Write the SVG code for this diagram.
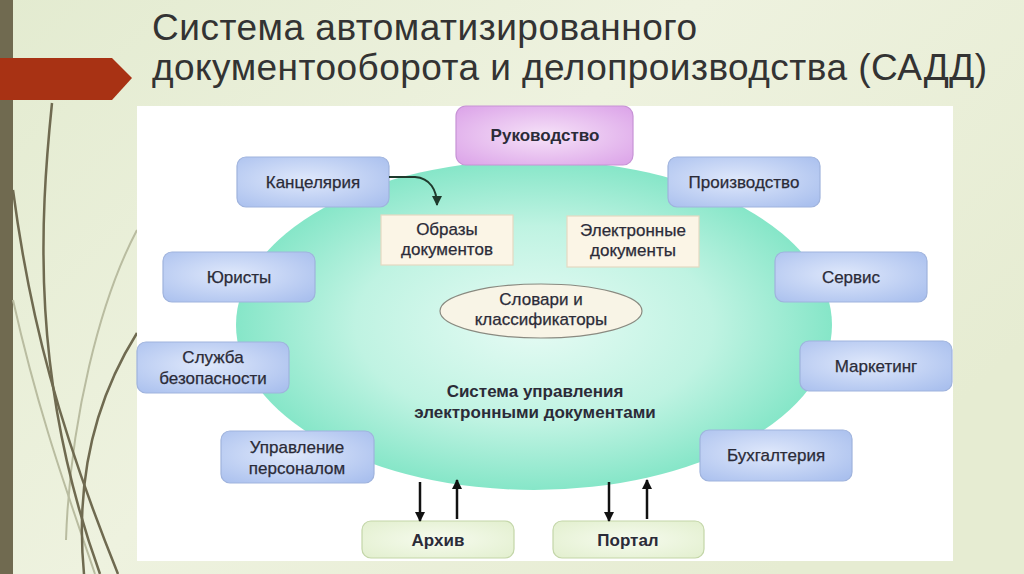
<svg xmlns="http://www.w3.org/2000/svg" width="1024" height="574" viewBox="0 0 1024 574">
  <defs>
    <linearGradient id="bg" x1="0" y1="0" x2="1" y2="0.6">
      <stop offset="0" stop-color="#e3ebd0"/>
      <stop offset="0.5" stop-color="#eef2df"/>
      <stop offset="1" stop-color="#e6ecd2"/>
    </linearGradient>
    <radialGradient id="mint" cx="0.5" cy="0.5" r="0.5">
      <stop offset="0" stop-color="#e6fbf4"/>
      <stop offset="0.6" stop-color="#bff3e2"/>
      <stop offset="1" stop-color="#86e6c8"/>
    </radialGradient>
    <radialGradient id="blue" cx="0.45" cy="0.45" r="0.7">
      <stop offset="0" stop-color="#dfe8fb"/>
      <stop offset="1" stop-color="#aac0ee"/>
    </radialGradient>
    <radialGradient id="purple" cx="0.5" cy="0.5" r="0.7">
      <stop offset="0" stop-color="#f6e2f8"/>
      <stop offset="1" stop-color="#dba2e8"/>
    </radialGradient>
    <radialGradient id="green" cx="0.5" cy="0.5" r="0.7">
      <stop offset="0" stop-color="#f6fbee"/>
      <stop offset="1" stop-color="#e2efce"/>
    </radialGradient>
    <marker id="ah" viewBox="0 0 10 10" refX="9" refY="5" markerWidth="4" markerHeight="4" orient="auto" markerUnits="strokeWidth">
      <path d="M0,0 L10,5 L0,10 z" fill="#111"/>
    </marker>
    <marker id="ahg" viewBox="0 0 10 10" refX="9" refY="5" markerWidth="5" markerHeight="5" orient="auto" markerUnits="strokeWidth">
      <path d="M0,0 L10,5 L0,10 z" fill="#1f3a2c"/>
    </marker>
    <style>
      .t{font-family:"Liberation Sans",Arial,sans-serif;font-size:17px;fill:#2b2b38;text-anchor:middle;stroke:#2b2b38;stroke-width:0.25}
      .b{font-weight:bold;stroke:none}
      .bn{fill:url(#blue);stroke:#9fb3dd;stroke-width:1.2}
      .bg{fill:#fbf5e6;stroke:#e4d9c2;stroke-width:1.2}
      .gn{fill:url(#green);stroke:#c3d6a8;stroke-width:1.2}
      .title{font-family:"Liberation Sans",Arial,sans-serif;font-size:37px;fill:#333333}
      .deco{fill:none;stroke:#6f6a50;stroke-width:2.5}
      .decol{fill:none;stroke:#b9bca0;stroke-width:2}
      .ar{stroke:#111;stroke-width:2.5;fill:none}
    </style>
  </defs>

  <!-- slide background -->
  <rect x="0" y="0" width="1024" height="574" fill="url(#bg)"/>
  <rect x="0" y="0" width="13" height="574" fill="#706a50"/>
  <path d="M0,58 L112,58 L132,78 L112,100 L0,100 z" fill="#a83214"/>

  <!-- decorative curves -->
  <path class="decol" d="M13,300 C40,420 70,500 95,574"/>
  <path class="decol" d="M137,230 C100,300 70,420 66,540"/>
  <path class="deco" d="M52,103 C40,220 30,380 100,574"/>
  <path class="deco" d="M13,190 C30,320 60,430 118,574"/>
  <path class="deco" d="M137,333 C95,400 75,480 84,574"/>

  <text class="title" x="152" y="40" textLength="545" lengthAdjust="spacing">Система автоматизированного</text>
  <text class="title" x="152" y="80" textLength="835" lengthAdjust="spacing">документооборота и делопроизводства (САДД)</text>

  <!-- picture panel -->
  <rect x="137" y="106" width="816" height="455" fill="#ffffff"/>

  <g id="sed">
    <ellipse cx="534" cy="325" rx="298" ry="165" fill="url(#mint)"/>
    <text class="t b" x="535" y="397" font-size="18">Система управления</text>
    <text class="t b" x="535" y="418" font-size="18">электронными документами</text>
  </g>

  <g id="obrazy">
    <rect class="bg" x="381" y="215" width="132" height="50"/>
    <text class="t" x="447" y="235">Образы</text>
    <text class="t" x="447" y="255">документов</text>
  </g>
  <g id="edocs">
    <rect class="bg" x="567" y="216" width="132" height="51"/>
    <text class="t" x="633" y="236">Электронные</text>
    <text class="t" x="633" y="256">документы</text>
  </g>
  <g id="slovari">
    <ellipse cx="541" cy="311" rx="101" ry="27" fill="#f8f4e6" stroke="#8a8a80" stroke-width="1.2"/>
    <text class="t" x="541" y="305">Словари и</text>
    <text class="t" x="541" y="325">классификаторы</text>
  </g>

  <g id="rukovodstvo">
    <rect x="456" y="106" width="177" height="59" rx="10" fill="url(#purple)" stroke="#c793d6" stroke-width="1.2"/>
    <text class="t b" x="545" y="141" font-size="17.5">Руководство</text>
  </g>
  <g id="kancelyariya">
    <rect class="bn" x="237" y="157" width="152" height="50" rx="9"/>
    <text class="t" x="313" y="188">Канцелярия</text>
  </g>
  <g id="yuristy">
    <rect class="bn" x="163" y="252" width="152" height="50" rx="9"/>
    <text class="t" x="239" y="283">Юристы</text>
  </g>
  <g id="sluzhba">
    <rect class="bn" x="137" y="342" width="152" height="51" rx="9"/>
    <text class="t" x="213" y="363">Служба</text>
    <text class="t" x="213" y="384">безопасности</text>
  </g>
  <g id="upravlenie">
    <rect class="bn" x="221" y="431" width="153" height="52" rx="9"/>
    <text class="t" x="297" y="453">Управление</text>
    <text class="t" x="297" y="474">персоналом</text>
  </g>
  <g id="proizvodstvo">
    <rect class="bn" x="668" y="157" width="152" height="50" rx="9"/>
    <text class="t" x="744" y="188">Производство</text>
  </g>
  <g id="servis">
    <rect class="bn" x="775" y="252" width="152" height="50" rx="9"/>
    <text class="t" x="851" y="283">Сервис</text>
  </g>
  <g id="marketing">
    <rect class="bn" x="800" y="341" width="152" height="50" rx="9"/>
    <text class="t" x="876" y="372">Маркетинг</text>
  </g>
  <g id="buhgalteriya">
    <rect class="bn" x="700" y="430" width="152" height="51" rx="9"/>
    <text class="t" x="776" y="461">Бухгалтерия</text>
  </g>
  <g id="arhiv">
    <rect class="gn" x="362" y="521" width="152" height="37" rx="9"/>
    <text class="t b" x="438" y="546">Архив</text>
  </g>
  <g id="portal">
    <rect class="gn" x="553" y="521" width="151" height="37" rx="9"/>
    <text class="t b" x="628" y="546">Портал</text>
  </g>

  <g id="connectors">
    <path d="M389,177 L415,177 C430,178 437,190 437,205" fill="none" stroke="#1f3a2c" stroke-width="2" marker-end="url(#ahg)"/>
    <line class="ar" x1="420" y1="482" x2="420" y2="521" marker-end="url(#ah)"/>
    <line class="ar" x1="457" y1="519" x2="457" y2="480" marker-end="url(#ah)"/>
    <line class="ar" x1="609" y1="482" x2="609" y2="521" marker-end="url(#ah)"/>
    <line class="ar" x1="647" y1="519" x2="647" y2="480" marker-end="url(#ah)"/>
  </g>
</svg>
